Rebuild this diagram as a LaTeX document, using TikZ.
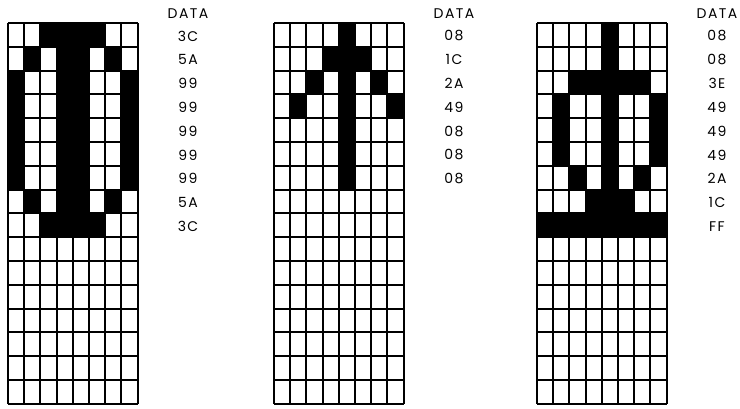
\documentclass[tikz,border=0pt]{standalone}
\usepackage{fontspec}
\setmainfont[LetterSpace=10]{Poppins}
\begin{document}
\begin{tikzpicture}[x=1pt, y=-1pt,
    dot/.style={fill=black},
    gridline/.style={line width=1.9pt},
    datatext/.style={font=\fontsize{14}{16}\selectfont, inner sep=0pt}]
    \useasboundingbox (0,0) rectangle (740,408);
    % cell size of the 8 x 16 dot matrix
    \def\cw{16.2}
    \def\ch{23.8}
    % Characters: name / left edge / row bytes
    \foreach \g/\gx/\rows in {a/8/{3C,5A,99,99,99,99,99,5A,3C},
                              b/274/{08,1C,2A,49,08,08,08},
                              c/537/{08,08,3E,49,49,49,2A,1C,FF}} {
        % Data column
        \node[datatext] (\g-data) at (\gx+180,14) {DATA};
        \foreach \hex [count=\r] in \rows {
            \node[datatext] (\g-r\r) at (\gx+180,24+\r*\ch-0.5*\ch) {\hex};
            \edef\val{\number"\hex}
            \foreach \c in {1,...,8} {
                \pgfmathtruncatemacro\bit{mod(floor(\val/2^(8-\c)),2)}
                \ifnum\bit=1
                    \fill[dot] (\gx+\c*\cw-\cw,23+\r*\ch-\ch) rectangle (\gx+\c*\cw,23+\r*\ch);
                \fi
            }
        }
        % Grid
        \foreach \i in {0,...,8}
            \draw[gridline] (\gx+\i*\cw,23) -- (\gx+\i*\cw,404);
        \foreach \j in {0,...,16}
            \draw[gridline] (\gx,23+\j*\ch) -- (\gx+8*\cw,23+\j*\ch);
    }
\end{tikzpicture}
\end{document}
